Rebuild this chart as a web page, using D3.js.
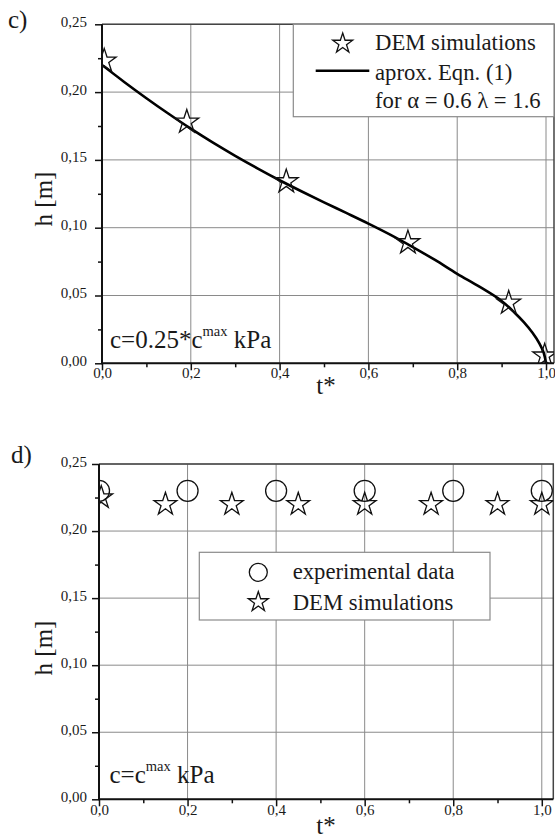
<!DOCTYPE html>
<html><head><meta charset="utf-8">
<script src="https://cdn.jsdelivr.net/npm/d3@7"></script>
<style>
html,body{margin:0;padding:0;background:#fff;}
svg text{font-family:'Liberation Serif','Tinos','Times New Roman','Times','Nimbus Roman','Nimbus Roman No9 L','FreeSerif','DejaVu Serif','Noto Serif','Georgia',serif !important;fill:#1a1a1a;}
</style></head>
<body>
<svg id="chart" width="555" height="840"></svg>
<script>
// ---------- data ----------
const xTicks = [0, 0.2, 0.4, 0.6, 0.8, 1.0];
const xTickLabels = ["0,0", "0,2", "0,4", "0,6", "0,8", "1,0"];
const xMinorTicks = [0.1, 0.3, 0.5, 0.7, 0.9];
const yTicks = [0, 0.05, 0.10, 0.15, 0.20, 0.25];
const yTickLabels = ["0,00", "0,05", "0,10", "0,15", "0,20", "0,25"];
const yMinorTicks = [0.025, 0.075, 0.125, 0.175, 0.225];

// panel c
const cDemT = [0.005, 0.191, 0.415, 0.689, 0.916, 0.997];
const cDemH = [0.223, 0.178, 0.134, 0.089, 0.0445, 0.0055];
const cFitT = [0.00, 0.05, 0.10, 0.15, 0.20, 0.25, 0.30, 0.35, 0.40, 0.45, 0.50, 0.55, 0.60, 0.65, 0.70, 0.75, 0.80, 0.85, 0.90, 0.93, 0.95, 0.97, 0.985, 0.995, 1.00];
const cFitH = [0.2200, 0.2075, 0.1955, 0.1840, 0.1730, 0.1627, 0.1530, 0.1438, 0.1350, 0.1267, 0.1187, 0.1109, 0.1030, 0.0947, 0.0857, 0.0762, 0.0660, 0.0565, 0.0460, 0.0371, 0.0303, 0.0223, 0.0147, 0.0076, 0.0000];

// panel d
const dExpT = [0.0, 0.2, 0.4, 0.6, 0.8, 1.0];
const dExpH = [0.230, 0.230, 0.230, 0.230, 0.230, 0.230];
const dDemT = [0.005, 0.15, 0.30, 0.45, 0.60, 0.75, 0.90, 1.0];
const dDemH = [0.225, 0.220, 0.220, 0.220, 0.220, 0.220, 0.220, 0.220];

const svg = d3.select("#chart");
const serif = "Liberation Serif, Tinos, Times New Roman, Times, Nimbus Roman, FreeSerif, DejaVu Serif, Noto Serif, serif";

function starPath(r) {
  return d3.symbol().type(d3.symbolStar).size(r * r / 0.8908130915292852)();
}

function panel(cfg) {
  const x = d3.scaleLinear().domain([0, cfg.xMax]).range([cfg.left, cfg.right]);
  const y = d3.scaleLinear().domain([0, 0.25]).range([cfg.bottom, cfg.top]);
  const g = svg.append("g").attr("font-family", serif);

  g.append("g").selectAll("line").data(xTicks).join("line")
    .attr("x1", d => x(d)).attr("x2", d => x(d))
    .attr("y1", cfg.top).attr("y2", cfg.bottom)
    .attr("stroke", "#8a8a8a").attr("stroke-width", 1);
  g.append("g").selectAll("line").data(yTicks).join("line")
    .attr("x1", cfg.left).attr("x2", cfg.right)
    .attr("y1", d => y(d)).attr("y2", d => y(d))
    .attr("stroke", "#8a8a8a").attr("stroke-width", 1);

  g.append("path")
    .attr("d", `M${cfg.left},${cfg.top}H${cfg.right}V${cfg.bottom}`)
    .attr("fill", "none").attr("stroke", "#444").attr("stroke-width", 1.5);

  const clipId = "clip" + cfg.id;
  svg.append("clipPath").attr("id", clipId).append("rect")
    .attr("x", cfg.left).attr("y", cfg.top)
    .attr("width", cfg.right - cfg.left).attr("height", cfg.bottom - cfg.top);

  if (cfg.legendBox) {
    const b = cfg.legendBox;
    g.append("rect").attr("x", b[0]).attr("y", b[1]).attr("width", b[2] - b[0]).attr("height", b[3] - b[1])
      .attr("fill", "#fff").attr("stroke", "#8a8a8a").attr("stroke-width", 1.2);
  }

  const marks = g.append("g").attr("clip-path", `url(#${clipId})`);

  const ax = d3.axisBottom(x).tickValues(xTicks).tickFormat((d, i) => xTickLabels[i]).tickSize(7).tickSizeOuter(0);
  const axG = g.append("g").attr("transform", `translate(0,${cfg.bottom})`).call(ax).attr("font-family", serif);
  axG.select(".domain").attr("stroke", "#111").attr("stroke-width", 2).attr("d", `M${cfg.left},0H${cfg.right}`);
  axG.selectAll(".tick line").attr("stroke", "#111").attr("stroke-width", 1.5);
  axG.selectAll(".tick text").attr("font-size", 15).attr("fill", "#333")
    .attr("y", cfg.xLabelDy).attr("dy", 0);
  g.append("g").attr("transform", `translate(0,${cfg.bottom})`)
    .call(d3.axisBottom(x).tickValues(xMinorTicks).tickFormat("").tickSize(4).tickSizeOuter(0))
    .call(s => { s.select(".domain").remove(); s.selectAll(".tick line").attr("stroke", "#111").attr("stroke-width", 1.5); });

  const ay = d3.axisLeft(y).tickValues(yTicks).tickFormat((d, i) => yTickLabels[i]).tickSize(7).tickSizeOuter(0);
  const ayG = g.append("g").attr("transform", `translate(${cfg.left},0)`).call(ay).attr("font-family", serif);
  ayG.select(".domain").attr("stroke", "#111").attr("stroke-width", 2).attr("d", `M0,${cfg.bottom + 1}V${cfg.top}`);
  ayG.selectAll(".tick line").attr("stroke", "#111").attr("stroke-width", 1.5);
  ayG.selectAll(".tick text").attr("font-size", 15).attr("fill", "#333")
    .attr("x", -cfg.yLabelGap).attr("dy", 2);
  g.append("g").attr("transform", `translate(${cfg.left},0)`)
    .call(d3.axisLeft(y).tickValues(yMinorTicks).tickFormat("").tickSize(4).tickSizeOuter(0))
    .call(s => { s.select(".domain").remove(); s.selectAll(".tick line").attr("stroke", "#111").attr("stroke-width", 1.5); });

  g.append("text").attr("x", cfg.letterPos[0]).attr("y", cfg.letterPos[1])
    .attr("font-size", 25).text(cfg.letter);

  g.append("text").attr("transform", `translate(${cfg.yTitle[0]},${cfg.yTitle[1]}) rotate(-90)`)
    .attr("text-anchor", "middle").attr("font-size", 25).text("h [m]");
  g.append("text").attr("x", cfg.xTitle[0]).attr("y", cfg.xTitle[1])
    .attr("text-anchor", "middle").attr("font-size", 25).text("t*");

  const ann = g.append("text").attr("x", cfg.annPos[0]).attr("y", cfg.annPos[1]).attr("font-size", 25);
  ann.append("tspan").text(cfg.annPre);
  ann.append("tspan").attr("font-size", 14.5).attr("dy", -12).text("max");
  ann.append("tspan").attr("dy", 12).text("\u00a0kPa");

  return {x, y, g, marks};
}

// ---------- panel c ----------
const pc = panel({
  id: "c", left: 102, right: 554, top: 24.3, bottom: 363.3, xMax: 1.018,
  xLabelDy: 15, yLabelGap: 15,
  letter: "c)", letterPos: [8, 28],
  yTitle: [52, 199], xTitle: [326, 394],
  annPos: [110, 348], annPre: "c=0.25*c",
  legendBox: [293.3, 24.3, 554, 116.7]
});
const fitLine = d3.line().x(d => pc.x(d[0])).y(d => pc.y(d[1])).curve(d3.curveCatmullRom.alpha(0.5));
pc.marks.append("path").datum(cFitT.map((t, i) => [t, cFitH[i]]))
  .attr("d", fitLine).attr("fill", "none").attr("stroke", "#000").attr("stroke-width", 2.6);
pc.marks.selectAll(".star").data(cDemT.map((t, i) => [t, cDemH[i]])).join("path")
  .attr("transform", d => `translate(${pc.x(d[0])},${pc.y(d[1])})`)
  .attr("d", starPath(12.5)).attr("fill", "none").attr("stroke", "#111").attr("stroke-width", 1.3);

pc.g.append("path").attr("transform", "translate(342.7,43.5)").attr("d", starPath(10.5))
  .attr("fill", "none").attr("stroke", "#111").attr("stroke-width", 1.3);
pc.g.append("line").attr("x1", 315.7).attr("x2", 369.3).attr("y1", 70.7).attr("y2", 70.7)
  .attr("stroke", "#000").attr("stroke-width", 2.6);
pc.g.append("text").attr("x", 375).attr("y", 50).attr("font-size", 22.7).text("DEM simulations");
pc.g.append("text").attr("x", 375).attr("y", 80).attr("font-size", 22.7).text("aprox. Eqn. (1)");
pc.g.append("text").attr("x", 375).attr("y", 108.3).attr("font-size", 22.7).text("for \u03b1 = 0.6 \u03bb = 1.6");

// ---------- panel d ----------
const pd = panel({
  id: "d", left: 99, right: 553.3, top: 464, bottom: 799.3, xMax: 1.026,
  xLabelDy: 16, yLabelGap: 12,
  letter: "d)", letterPos: [11, 463],
  yTitle: [52, 648], xTitle: [326, 834],
  annPos: [109.5, 783.3], annPre: "c=c",
  legendBox: [199.3, 552.3, 490, 620]
});
pd.marks.selectAll(".circ").data(dExpT.map((t, i) => [t, dExpH[i]])).join("circle")
  .attr("cx", d => pd.x(d[0])).attr("cy", d => pd.y(d[1])).attr("r", 10.5)
  .attr("fill", "none").attr("stroke", "#111").attr("stroke-width", 1.3);
pd.marks.selectAll(".star").data(dDemT.map((t, i) => [t, dDemH[i]])).join("path")
  .attr("transform", d => `translate(${pd.x(d[0])},${pd.y(d[1])})`)
  .attr("d", starPath(12)).attr("fill", "none").attr("stroke", "#111").attr("stroke-width", 1.3);

pd.g.append("circle").attr("cx", 258.3).attr("cy", 572.3).attr("r", 9)
  .attr("fill", "none").attr("stroke", "#111").attr("stroke-width", 1.3);
pd.g.append("path").attr("transform", "translate(258.3,602)").attr("d", starPath(10.5))
  .attr("fill", "none").attr("stroke", "#111").attr("stroke-width", 1.3);
pd.g.append("text").attr("x", 292.7).attr("y", 579.3).attr("font-size", 22.7).text("experimental data");
pd.g.append("text").attr("x", 292.7).attr("y", 610).attr("font-size", 22.7).text("DEM simulations");
</script>
</body></html>
